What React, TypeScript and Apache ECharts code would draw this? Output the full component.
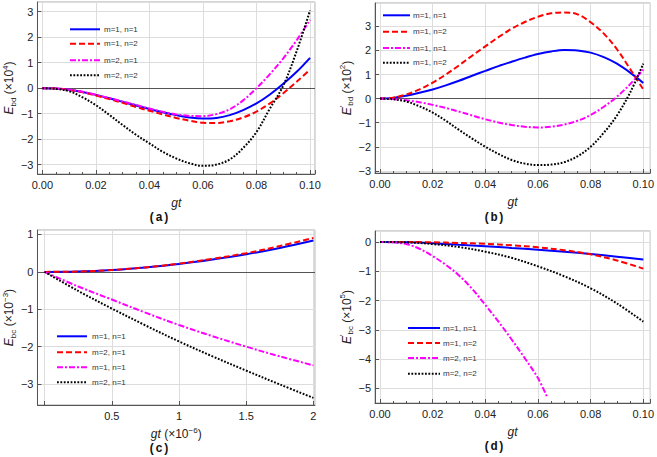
import React, { useEffect, useRef } from "react";
import * as echarts from "echarts";

// ---------- data ----------
const xA = [0, 0.005, 0.01, 0.015, 0.02, 0.025, 0.03, 0.035, 0.04, 0.045, 0.05, 0.055, 0.06, 0.065, 0.07, 0.075, 0.08, 0.085, 0.09, 0.095, 0.1];
const aBlue = [0, -0.01, -0.06, -0.15, -0.27, -0.4, -0.54, -0.68, -0.82, -0.95, -1.06, -1.15, -1.19, -1.17, -1.06, -0.86, -0.6, -0.25, 0.17, 0.64, 1.19];
const aRed = [0, -0.01, -0.07, -0.16, -0.29, -0.43, -0.58, -0.74, -0.89, -1.03, -1.17, -1.28, -1.36, -1.37, -1.3, -1.15, -0.92, -0.6, -0.2, 0.25, 0.73];
const aMag = [0, -0.01, -0.06, -0.14, -0.26, -0.39, -0.52, -0.66, -0.8, -0.93, -1.03, -1.09, -1.1, -1.02, -0.83, -0.48, 0.0, 0.55, 1.17, 1.88, 2.68];
const aBlk = [0, -0.03, -0.12, -0.36, -0.67, -1.05, -1.45, -1.83, -2.17, -2.5, -2.76, -2.95, -3.05, -3.0, -2.8, -2.35, -1.72, -0.8, 0.1, 1.45, 3.05];

const bBlue = [0, 0.03, 0.12, 0.24, 0.38, 0.55, 0.74, 0.95, 1.15, 1.35, 1.53, 1.7, 1.85, 1.96, 2.02, 2.0, 1.91, 1.72, 1.45, 1.08, 0.65];
const bRed = [0, 0.04, 0.17, 0.38, 0.66, 1.0, 1.38, 1.78, 2.17, 2.55, 2.9, 3.18, 3.4, 3.54, 3.58, 3.5, 3.17, 2.7, 2.05, 1.23, 0.38];
const bMag = [0, -0.02, -0.07, -0.15, -0.26, -0.39, -0.54, -0.7, -0.86, -0.99, -1.1, -1.17, -1.2, -1.17, -1.08, -0.92, -0.68, -0.34, 0.08, 0.6, 1.2];
const bBlk = [0, -0.03, -0.12, -0.32, -0.58, -0.92, -1.3, -1.66, -2.0, -2.3, -2.55, -2.7, -2.76, -2.74, -2.64, -2.4, -2.0, -1.42, -0.7, 0.25, 1.45];

const xC = [0, 0.25, 0.5, 0.75, 1, 1.25, 1.5, 1.75, 2];
const cBlue = [0, 0.01, 0.05, 0.12, 0.21, 0.33, 0.47, 0.64, 0.84];
const cRed = [0, 0.01, 0.05, 0.12, 0.22, 0.35, 0.5, 0.69, 0.91];
const cMag = [0, -0.39, -0.74, -1.09, -1.42, -1.72, -2.0, -2.26, -2.5];
const cBlk = [0, -0.51, -0.98, -1.43, -1.86, -2.26, -2.64, -3.01, -3.37];

const xD = [0, 0.01, 0.02, 0.03, 0.04, 0.05, 0.06, 0.07, 0.08, 0.09, 0.1];
const dBlue = [0, -0.01, -0.04, -0.09, -0.14, -0.2, -0.26, -0.33, -0.41, -0.5, -0.6];
const dRed = [0, 0.0, -0.01, -0.03, -0.06, -0.11, -0.18, -0.28, -0.42, -0.63, -0.91];
const dBlk = [0, -0.01, -0.07, -0.17, -0.33, -0.54, -0.83, -1.17, -1.58, -2.1, -2.72];
const xDMag = [0, 0.005, 0.01, 0.015, 0.02, 0.025, 0.03, 0.035, 0.04, 0.045, 0.05, 0.055, 0.06, 0.0635];
const dMag = [0, -0.01, -0.07, -0.23, -0.48, -0.78, -1.14, -1.6, -2.15, -2.72, -3.33, -3.97, -4.65, -5.3];

const legendA = ["m=1, n=1", "m=1, n=2", "m=2, n=1", "m=2, n=2"];
const legendB = ["m=1, n=1", "m=1, n=2", "m=1, n=1", "m=1, n=2"];
const legendC = ["m=1, n=1", "m=2, n=1", "m=1, n=1", "m=2, n=1"];
const legendD = ["m=1, n=1", "m=1, n=2", "m=2, n=1", "m=2, n=2"];

const captions = ["(a)", "(b)", "(c)", "(d)"];

// ---------- styles ----------
const FONT = "Liberation Sans, Arial, Helvetica, sans-serif";
const STYLES = [
  { color: "#0000ff", dash: "solid" as any, canvasDash: null as any },
  { color: "#ff0000", dash: [6, 3], canvasDash: [6, 3] },
  { color: "#ff00ff", dash: [6, 2, 2, 2], canvasDash: [6, 2, 2, 2] },
  { color: "#000000", dash: [1.8, 1.6], canvasDash: [1.8, 1.6] },
];

const pairs = (xs: number[], ys: number[]) => xs.map((x, i) => [x, ys[i]]);
const minus = (s: string) => s.replace(/-/g, "\u2212");

export default function App() {
  const ref = useRef<HTMLDivElement>(null);
  useEffect(() => {
    document.body.style.margin = "0";
    const chart = echarts.init(ref.current!, null, { renderer: "svg" });

    const grids = [
      { left: 35, top: 2, width: 280, height: 172 },
      { left: 375, top: 3, width: 277, height: 170 },
      { left: 35, top: 230, width: 280, height: 175 },
      { left: 375, top: 231, width: 277, height: 172 },
    ];
    const xRanges = [
      [-0.00185, 0.10185],
      [-0.00189, 0.10264],
      [-0.053, 2.012],
      [-0.00189, 0.10264],
    ];
    const yRanges = [
      [-3.37, 3.38],
      [-3.09, 3.97],
      [-3.56, 1.12],
      [-5.5, 0.377],
    ];
    const rich = {
      i: { fontStyle: "italic", fontSize: 12, fontFamily: FONT, color: "#222", lineHeight: 16, verticalAlign: "middle" },
      sub: { fontSize: 8, fontFamily: FONT, color: "#222", lineHeight: 16, verticalAlign: "bottom" },
      sup: { fontSize: 8, fontFamily: FONT, color: "#222", lineHeight: 16, verticalAlign: "top" },
      n: { fontSize: 12, fontFamily: FONT, color: "#222", lineHeight: 16, verticalAlign: "middle" },
    };
    const yNames = [
      "{i|E}{sub|bd}{n| (×10}{sup|4}{n|)}",
      "{i|E}{sup|′}{sub|bd}{n| (×10}{sup|2}{n|)}",
      "{i|E}{sub|bc}{n| (×10}{sup|−3}{n|)}",
      "{i|E}{sup|′}{sub|bc}{n| (×10}{sup|5}{n|)}",
    ];
    const xNames = ["{i|gt}", "{i|gt}", "{i|gt}{n| (×10}{sup|−6}{n|)}", "{i|gt}"];
    const xFormat = [
      (v: number) => v.toFixed(2),
      (v: number) => v.toFixed(2),
      (v: number) => (Math.abs(v) < 1e-9 ? "" : String(+v.toFixed(2))),
      (v: number) => v.toFixed(2),
    ];

    const xAxis = grids.map((_, k) => ({
      type: "value",
      gridIndex: k,
      min: xRanges[k][0],
      max: xRanges[k][1],
      name: xNames[k],
      nameLocation: "middle",
      nameGap: 21,
      nameTextStyle: { rich, fontFamily: FONT, fontSize: 12, color: "#222" },
      axisLine: { show: true, onZero: false, lineStyle: { color: "#555", width: 1 } },
      axisTick: { show: true, inside: true, length: 4, lineStyle: { color: "#555" } },
      minorTick: { show: k !== 2, splitNumber: 4, length: 2, lineStyle: { color: "#555" } },
      splitLine: { show: true, lineStyle: { color: "#dddddd", width: 1 } },
      axisLabel: {
        showMinLabel: false,
        showMaxLabel: false,
        margin: 5,
        fontFamily: FONT,
        fontSize: 11,
        color: "#222",
        formatter: xFormat[k],
      },
    }));
    const yAxis = grids.map((_, k) => ({
      type: "value",
      gridIndex: k,
      min: yRanges[k][0],
      max: yRanges[k][1],
      name: yNames[k],
      nameLocation: "middle",
      nameRotate: 90,
      nameGap: 20,
      nameTextStyle: { rich, fontFamily: FONT, fontSize: 12, color: "#222" },
      axisLine: { show: true, onZero: false, lineStyle: { color: "#555", width: 1 } },
      axisTick: { show: true, inside: true, length: 4, lineStyle: { color: "#555" } },
      splitLine: { show: true, lineStyle: { color: "#dddddd", width: 1 } },
      axisLabel: {
        showMinLabel: false,
        showMaxLabel: false,
        margin: 4,
        fontFamily: FONT,
        fontSize: 11,
        color: "#222",
        formatter: (v: number) => minus(String(+v.toFixed(2))),
      },
    }));

    const panelData = [
      [pairs(xA, aBlue), pairs(xA, aRed), pairs(xA, aMag), pairs(xA, aBlk)],
      [pairs(xA, bBlue), pairs(xA, bRed), pairs(xA, bMag), pairs(xA, bBlk)],
      [pairs(xC, cBlue), pairs(xC, cRed), pairs(xC, cMag), pairs(xC, cBlk)],
      [pairs(xD, dBlue), pairs(xD, dRed), pairs(xDMag, dMag), pairs(xD, dBlk)],
    ];
    const legends = [legendA, legendB, legendC, legendD];

    const series: any[] = [];
    panelData.forEach((set, k) => {
      set.forEach((data, j) => {
        const s: any = {
          type: "line",
          name: `p${k}s${j}`,
          xAxisIndex: k,
          yAxisIndex: k,
          data,
          showSymbol: false,
          smooth: 0.35,
          z: 3 + j,
          lineStyle: { color: STYLES[j].color, width: 2, type: STYLES[j].dash },
        };
        if (j === 0 && k !== 3) {
          s.markLine = {
            silent: true,
            symbol: "none",
            label: { show: false },
            lineStyle: { color: "#555", width: 1, type: "solid" },
            data: [{ yAxis: 0 }],
            z: 2,
          };
        }
        series.push(s);
      });
    });

    const legendLayout = [
      { x0: 70, x1: 100, tx: 104, ys: [29.3, 43.7, 60.3, 75.3] },
      { x0: 383, x1: 410, tx: 413, ys: [15.3, 31.7, 48, 62.7] },
      { x0: 57, x1: 87, tx: 92, ys: [336.3, 352.3, 367.3, 382.3] },
      { x0: 408, x1: 440, tx: 443, ys: [328, 343, 358, 373.7] },
    ];
    const graphic: any[] = [];
    legendLayout.forEach((L, k) => {
      legends[k].forEach((label, j) => {
        graphic.push({
          type: "line",
          z: 100,
          shape: { x1: L.x0, y1: L.ys[j], x2: L.x1, y2: L.ys[j] },
          style: { stroke: STYLES[j].color, lineWidth: 2, lineDash: STYLES[j].canvasDash },
        });
        graphic.push({
          type: "text",
          z: 100,
          x: L.tx,
          y: L.ys[j],
          style: { text: label, fontFamily: FONT, fontSize: 8, fill: "#333", verticalAlign: "middle", align: "left" },
        });
      });
    });
    const capPos = [
      [159, 218],
      [494, 218],
      [159, 449],
      [494, 447],
    ];
    capPos.forEach((p, k) => {
      graphic.push({
        type: "text",
        x: p[0],
        y: p[1],
        style: {
          text: captions[k],
          fontFamily: "Liberation Mono, DejaVu Sans Mono, monospace",
          fontWeight: "bold",
          fontSize: 12,
          fill: "#111",
          align: "center",
          verticalAlign: "middle",
        },
      });
    });

    chart.setOption({
      animation: false,
      backgroundColor: "#ffffff",
      grid: grids.map((g) => ({ ...g, show: true, borderColor: "#aaaaaa", borderWidth: 1, backgroundColor: "transparent" })),
      xAxis,
      yAxis,
      series,
      graphic,
    });
    return () => chart.dispose();
  }, []);
  return <div ref={ref} style={{ width: 657, height: 457 }} />;
}
